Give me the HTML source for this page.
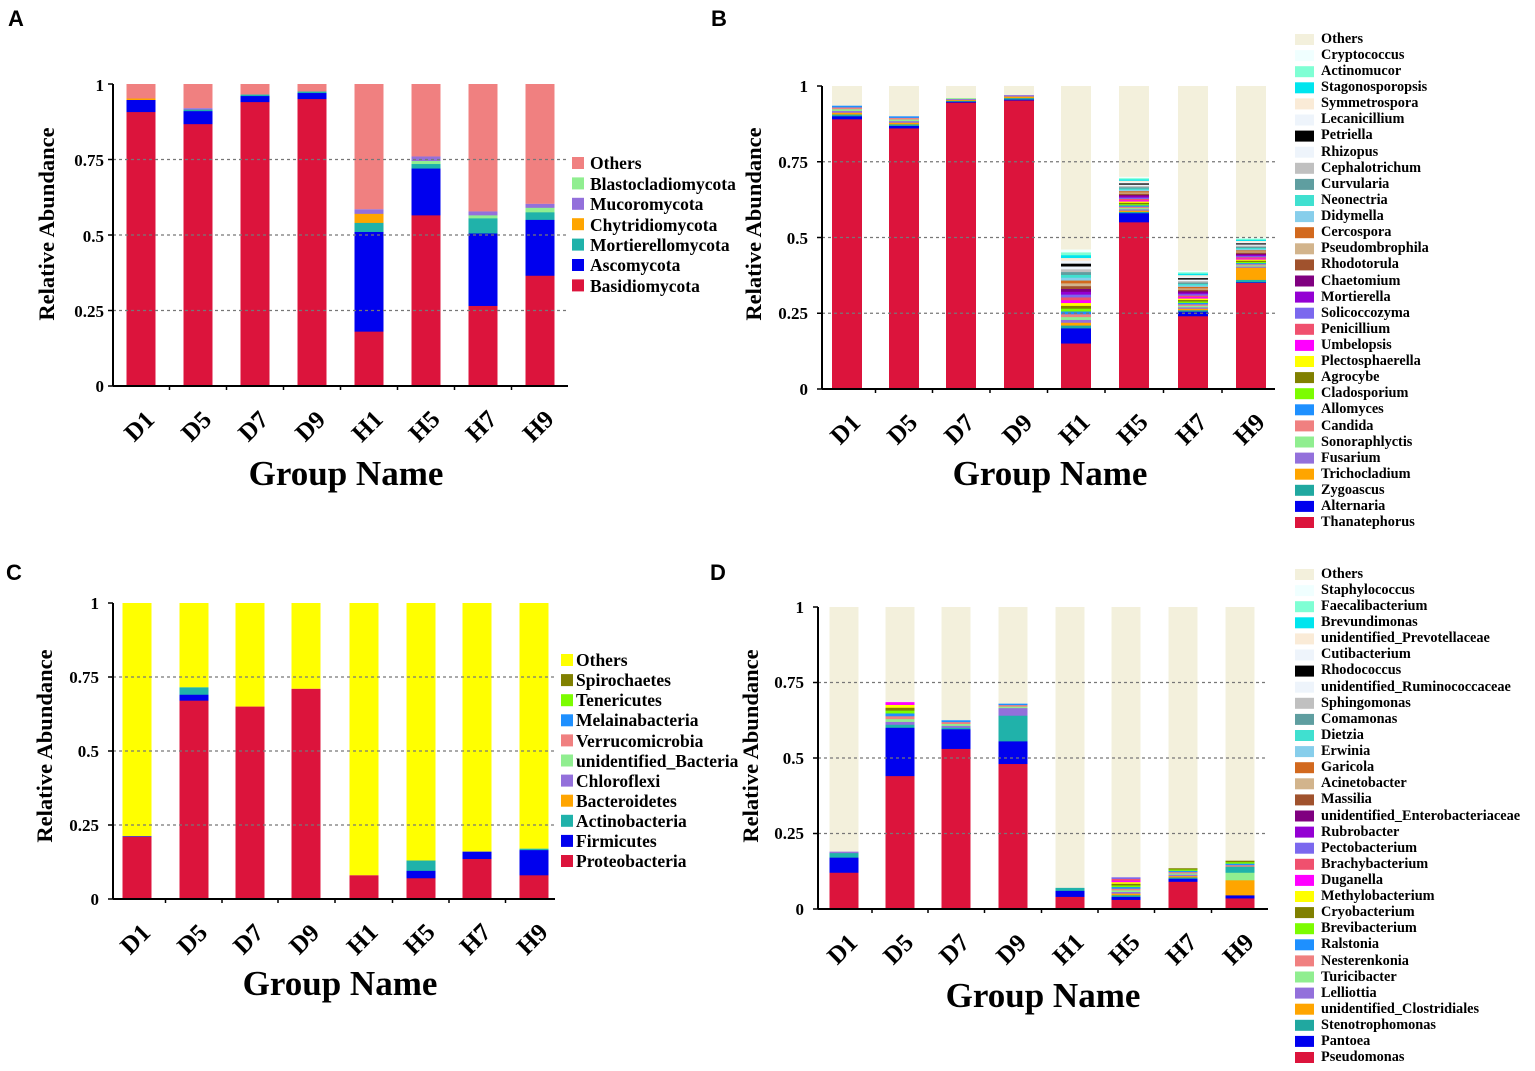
<!DOCTYPE html>
<html><head><meta charset="utf-8"><style>
body{margin:0;background:#fff}
svg{display:block}
.t{font-family:"Liberation Serif",serif;font-weight:bold}
.pl{font-family:"Liberation Sans",sans-serif;font-weight:bold;font-size:22px}
</style></head><body>
<svg id="s" width="1535" height="1071" xmlns="http://www.w3.org/2000/svg">
<text class="pl" x="8" y="26">A</text>
<text class="pl" x="711" y="26">B</text>
<text class="pl" x="6" y="580">C</text>
<text class="pl" x="710" y="580">D</text>
<g class="t" font-size="22.5" text-anchor="middle">
<text transform="translate(54,224) rotate(-90)">Relative Abundance</text>
<text transform="translate(761,224) rotate(-90)">Relative Abundance</text>
<text transform="translate(52,746) rotate(-90)">Relative Abundance</text>
<text transform="translate(758,746) rotate(-90)">Relative Abundance</text>
</g>
<g class="t" font-size="35" text-anchor="middle">
<text x="346" y="485">Group Name</text>
<text x="1050" y="485">Group Name</text>
<text x="340" y="995">Group Name</text>
<text x="1043" y="1007">Group Name</text>
</g>
<g class="t" font-size="17.5">
<text x="590" y="169">Others</text><text x="590" y="190">Blastocladiomycota</text><text x="590" y="210">Mucoromycota</text><text x="590" y="231">Chytridiomycota</text><text x="590" y="251">Mortierellomycota</text><text x="590" y="271">Ascomycota</text><text x="590" y="292">Basidiomycota</text>
<text x="576" y="666">Others</text><text x="576" y="686">Spirochaetes</text><text x="576" y="706">Tenericutes</text><text x="576" y="726">Melainabacteria</text><text x="576" y="747">Verrucomicrobia</text><text x="576" y="767">unidentified_Bacteria</text><text x="576" y="787">Chloroflexi</text><text x="576" y="807">Bacteroidetes</text><text x="576" y="827">Actinobacteria</text><text x="576" y="847">Firmicutes</text><text x="576" y="867">Proteobacteria</text>
</g>
<g class="t" font-size="14.3">
<text x="1321" y="43">Others</text><text x="1321" y="59">Cryptococcus</text><text x="1321" y="75">Actinomucor</text><text x="1321" y="91">Stagonosporopsis</text><text x="1321" y="107">Symmetrospora</text><text x="1321" y="123">Lecanicillium</text><text x="1321" y="139">Petriella</text><text x="1321" y="156">Rhizopus</text><text x="1321" y="172">Cephalotrichum</text><text x="1321" y="188">Curvularia</text><text x="1321" y="204">Neonectria</text><text x="1321" y="220">Didymella</text><text x="1321" y="236">Cercospora</text><text x="1321" y="252">Pseudombrophila</text><text x="1321" y="268">Rhodotorula</text><text x="1321" y="285">Chaetomium</text><text x="1321" y="301">Mortierella</text><text x="1321" y="317">Solicoccozyma</text><text x="1321" y="333">Penicillium</text><text x="1321" y="349">Umbelopsis</text><text x="1321" y="365">Plectosphaerella</text><text x="1321" y="381">Agrocybe</text><text x="1321" y="397">Cladosporium</text><text x="1321" y="413">Allomyces</text><text x="1321" y="430">Candida</text><text x="1321" y="446">Sonoraphlyctis</text><text x="1321" y="462">Fusarium</text><text x="1321" y="478">Trichocladium</text><text x="1321" y="494">Zygoascus</text><text x="1321" y="510">Alternaria</text><text x="1321" y="526">Thanatephorus</text>
</g>
<g class="t" font-size="14.3">
<text x="1321" y="578">Others</text><text x="1321" y="594">Staphylococcus</text><text x="1321" y="610">Faecalibacterium</text><text x="1321" y="626">Brevundimonas</text><text x="1321" y="642">unidentified_Prevotellaceae</text><text x="1321" y="658">Cutibacterium</text><text x="1321" y="674">Rhodococcus</text><text x="1321" y="691">unidentified_Ruminococcaceae</text><text x="1321" y="707">Sphingomonas</text><text x="1321" y="723">Comamonas</text><text x="1321" y="739">Dietzia</text><text x="1321" y="755">Erwinia</text><text x="1321" y="771">Garicola</text><text x="1321" y="787">Acinetobacter</text><text x="1321" y="803">Massilia</text><text x="1321" y="820">unidentified_Enterobacteriaceae</text><text x="1321" y="836">Rubrobacter</text><text x="1321" y="852">Pectobacterium</text><text x="1321" y="868">Brachybacterium</text><text x="1321" y="884">Duganella</text><text x="1321" y="900">Methylobacterium</text><text x="1321" y="916">Cryobacterium</text><text x="1321" y="932">Brevibacterium</text><text x="1321" y="948">Ralstonia</text><text x="1321" y="965">Nesterenkonia</text><text x="1321" y="981">Turicibacter</text><text x="1321" y="997">Lelliottia</text><text x="1321" y="1013">unidentified_Clostridiales</text><text x="1321" y="1029">Stenotrophomonas</text><text x="1321" y="1045">Pantoea</text><text x="1321" y="1061">Pseudomonas</text>
</g>
<g class="t" font-size="17" text-anchor="end">
<text x="104" y="91">1</text><text x="104" y="166">0.75</text><text x="104" y="242">0.5</text><text x="104" y="317">0.25</text><text x="104" y="392">0</text>
<text x="808" y="92">1</text><text x="808" y="168">0.75</text><text x="808" y="244">0.5</text><text x="808" y="319">0.25</text><text x="808" y="395">0</text>
<text x="99" y="609">1</text><text x="99" y="683">0.75</text><text x="99" y="757">0.5</text><text x="99" y="831">0.25</text><text x="99" y="905">0</text>
<text x="804" y="613">1</text><text x="804" y="688">0.75</text><text x="804" y="764">0.5</text><text x="804" y="839">0.25</text><text x="804" y="915">0</text>
</g>
<g class="t" font-size="25" text-anchor="middle">
<text transform="translate(145,432) rotate(-45)">D1</text><text transform="translate(202,432) rotate(-45)">D5</text><text transform="translate(259,432) rotate(-45)">D7</text><text transform="translate(316,432) rotate(-45)">D9</text><text transform="translate(373,432) rotate(-45)">H1</text><text transform="translate(430,432) rotate(-45)">H5</text><text transform="translate(487,432) rotate(-45)">H7</text><text transform="translate(544,432) rotate(-45)">H9</text>
<text transform="translate(851,435) rotate(-45)">D1</text><text transform="translate(908,435) rotate(-45)">D5</text><text transform="translate(965,435) rotate(-45)">D7</text><text transform="translate(1023,435) rotate(-45)">D9</text><text transform="translate(1080,435) rotate(-45)">H1</text><text transform="translate(1138,435) rotate(-45)">H5</text><text transform="translate(1197,435) rotate(-45)">H7</text><text transform="translate(1255,435) rotate(-45)">H9</text>
<text transform="translate(141,945) rotate(-45)">D1</text><text transform="translate(198,945) rotate(-45)">D5</text><text transform="translate(254,945) rotate(-45)">D7</text><text transform="translate(310,945) rotate(-45)">D9</text><text transform="translate(368,945) rotate(-45)">H1</text><text transform="translate(425,945) rotate(-45)">H5</text><text transform="translate(481,945) rotate(-45)">H7</text><text transform="translate(538,945) rotate(-45)">H9</text>
<text transform="translate(848,955) rotate(-45)">D1</text><text transform="translate(904,955) rotate(-45)">D5</text><text transform="translate(960,955) rotate(-45)">D7</text><text transform="translate(1017,955) rotate(-45)">D9</text><text transform="translate(1074,955) rotate(-45)">H1</text><text transform="translate(1130,955) rotate(-45)">H5</text><text transform="translate(1187,955) rotate(-45)">H7</text><text transform="translate(1244,955) rotate(-45)">H9</text>
</g>
</svg>
<script>
var s=document.getElementById('s'),NS='http://www.w3.org/2000/svg';
function r(x,y,w,h,f){var e=document.createElementNS(NS,'rect');e.setAttribute('x',x);e.setAttribute('y',y);e.setAttribute('width',w);e.setAttribute('height',h);e.setAttribute('fill',f);s.insertBefore(e,s.firstChild.nextSibling);}
function l(x1,y1,x2,y2,c,w,d){var e=document.createElementNS(NS,'line');e.setAttribute('x1',x1);e.setAttribute('y1',y1);e.setAttribute('x2',x2);e.setAttribute('y2',y2);e.setAttribute('stroke',c);e.setAttribute('stroke-width',w);if(d)e.setAttribute('stroke-dasharray',d);s.appendChild(e);}
var OB='#f3f0dc';
var cB=['#dc143c','#0000ee','#20a8a0','#ffa500','#9370db','#90ee90','#f08080','#1e90ff','#7cfc00','#808000','#ffff00','#ff00ff','#f0506e','#7b68ee','#9400d3','#800080','#a0522d','#d2b48c','#d2691e','#87ceeb','#40e0d0','#5f9ea0','#c0c0c0','#eef4fb','#000000','#eef4fb','#faebd7','#00e5ee','#7fffd4','#f0ffff',OB];
function panel(ax,top,bot,xend,xs,bw,data,other){
  var H=bot-top;
  [0.25,0.5,0.75].forEach(function(v){l(ax,bot-v*H,xend,bot-v*H,'#777',1.3,'3,3');});
  xs.forEach(function(x,i){var cum=0;data[i].forEach(function(p){var v=p[0],c=p[1];r(x-bw/2,bot-v*H,bw,(v-cum)*H+0.5,c);cum=v;});r(x-bw/2,top,bw,(1-cum)*H,other);});
  l(ax,top,ax,bot,'#000',2);l(ax,bot,xend,bot,'#000',2);
  [0,0.25,0.5,0.75,1].forEach(function(v){l(ax-5,bot-v*H,ax,bot-v*H,'#000',1.5);});
  xs.forEach(function(x,i){if(i<xs.length-1)l((x+xs[i+1])/2,bot,(x+xs[i+1])/2,bot+4,'#000',1.5);});
}
function mix(base,alt,tops){var a=[[base,cB[0]],[alt,cB[1]]];for(var i=0;i<tops.length;i++)a.push([tops[i],cB[2+i]]);return a;}
function seq(a,b,k){var o=[];for(var i=1;i<=k;i++)o.push(a+(b-a)*i/k);return o;}
var R='#dc143c',Bl='#0000ee',Tl='#20b2aa',Or='#ffa500',Pu='#9370db',Lg='#90ee90',Pk='#f08080';
panel(113,84,386,568,[141,198,255,312,369,426,483,540],29,[
[[.907,R],[.947,Bl],[.952,Or]],[[.867,R],[.91,Bl],[.915,Tl],[.92,Pu]],[[.94,R],[.96,Bl],[.965,Tl]],[[.95,R],[.97,Bl],[.975,Tl]],
[[.18,R],[.51,Bl],[.54,Tl],[.57,Or],[.585,Pu]],[[.565,R],[.72,Bl],[.735,Tl],[.745,Lg],[.76,Pu]],[[.265,R],[.505,Bl],[.555,Tl],[.565,Lg],[.578,Pu]],[[.365,R],[.55,Bl],[.575,Tl],[.59,Lg],[.603,Pu]]],Pk);
panel(822,86,389,1275,[847,904,961,1019,1076,1134,1193,1251],30,[
mix(.89,.9,seq(.9,.935,6)),mix(.86,.868,seq(.868,.9,6)),mix(.945,.948,seq(.948,.96,4)),mix(.952,.955,seq(.955,.97,3)),
mix(.15,.2,seq(.2,.46,28)),mix(.55,.58,seq(.58,.7,28)),mix(.24,.255,seq(.255,.39,28)),[[.35,R],[.352,Bl],[.36,Tl],[.4,Or]].concat(seq(.4,.5,26).map(function(v,i){return [v,cB[4+i]];}))],OB);
var Y='#ffff00';
panel(113,603,899,555,[137,194,250,306,364,421,477,534],29,[
[[.21,R],[.212,Bl]],[[.67,R],[.69,Bl],[.715,Tl]],[[.65,R]],[[.71,R]],[[.08,R]],[[.07,R],[.095,Bl],[.13,Tl]],[[.135,R],[.16,Bl]],[[.08,R],[.165,Bl],[.17,Tl]]],Y);
panel(818,607,909,1268,[844,900,956,1013,1070,1126,1183,1240],29,[
[[.12,R],[.17,Bl],[.185,Tl],[.19,Pu]],[[.44,R],[.6,Bl],[.61,Tl]].concat(seq(.61,.685,8).map(function(v,i){return [v,cB[4+i]];})),[[.53,R],[.595,Bl],[.6,Tl]].concat(seq(.6,.625,4).map(function(v,i){return [v,cB[4+i]];})),[[.48,R],[.555,Bl],[.64,Tl],[.665,Pu]].concat(seq(.665,.68,3).map(function(v,i){return [v,cB[5+i]];})),
[[.04,R],[.06,Bl],[.07,Tl]],[[.03,R],[.04,Bl]].concat(seq(.04,.105,12).map(function(v,i){return [v,cB[2+i]];})),[[.09,R],[.1,Bl]].concat(seq(.1,.135,8).map(function(v,i){return [v,cB[2+i]];})),[[.035,R],[.045,Bl],[.095,Or],[.12,Lg],[.14,Tl]].concat(seq(.14,.16,4).map(function(v,i){return [v,cB[6+i]];}))],OB);
function sq(x,y,w,h,c){var e=document.createElementNS(NS,'rect');e.setAttribute('x',x);e.setAttribute('y',y);e.setAttribute('width',w);e.setAttribute('height',h);e.setAttribute('fill',c);s.appendChild(e);}
[Pk,Lg,Pu,Or,Tl,Bl,R].forEach(function(c,i){sq(572,157+i*20.4,12,12,c);});
[Y,'#808000','#7cfc00','#1e90ff',Pk,Lg,Pu,Or,Tl,Bl,R].forEach(function(c,i){sq(561,654+i*20.1,12,12,c);});
var cl=cB.slice().reverse();
cl.forEach(function(c,i){sq(1295,34+i*16.1,19,11,c);sq(1295,569+i*16.1,19,11,c);});
</script>
</body></html>
